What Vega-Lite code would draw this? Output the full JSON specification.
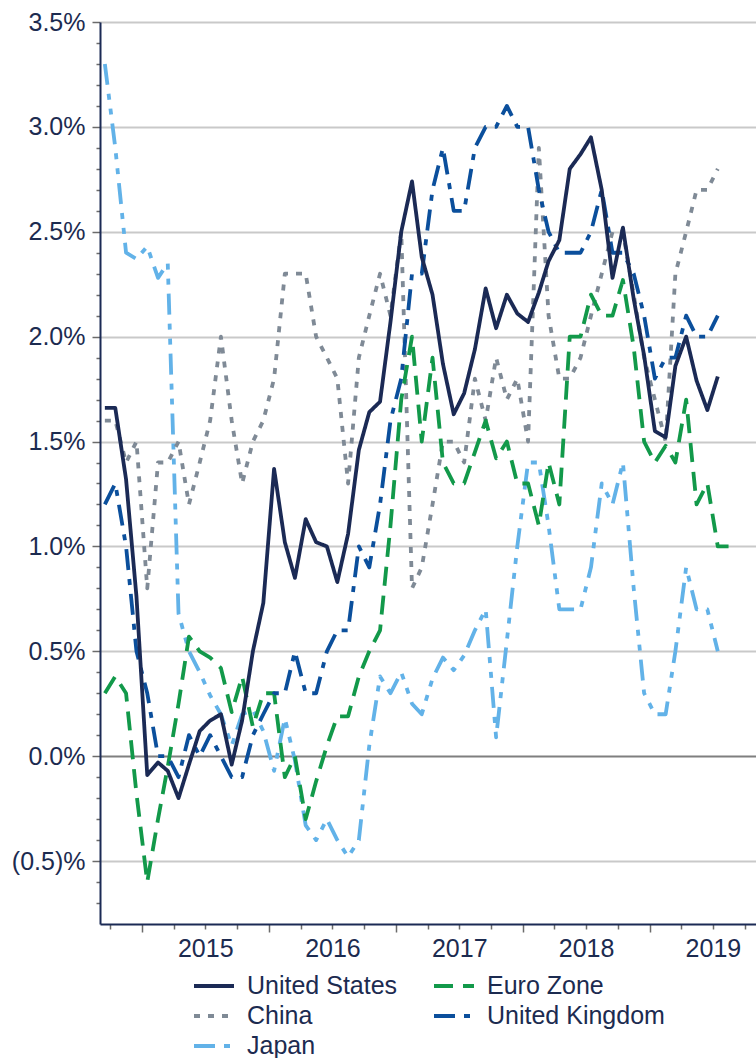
{
  "$schema": "https://vega.github.io/schema/vega-lite/v6.json",
  "width": 656,
  "height": 902,
  "autosize": {"type": "none"},
  "padding": {"left": 100, "top": 22, "right": 0, "bottom": 134},
  "background": "white",
  "config": {"view": {"stroke": null}, "font": "Liberation Sans"},
  "data": {"values": [
    {"date": "2014-09-15", "Japan": 3.3, "China": 1.6, "Euro Zone": 0.3, "United Kingdom": 1.2, "United States": 1.66},
    {"date": "2014-10-15", "Japan": 2.9, "China": 1.6, "Euro Zone": 0.38, "United Kingdom": 1.3, "United States": 1.66},
    {"date": "2014-11-15", "Japan": 2.4, "China": 1.4, "Euro Zone": 0.3, "United Kingdom": 1.0, "United States": 1.32},
    {"date": "2014-12-15", "Japan": 2.37, "China": 1.5, "Euro Zone": -0.18, "United Kingdom": 0.5, "United States": 0.76},
    {"date": "2015-01-15", "Japan": 2.43, "China": 0.8, "Euro Zone": -0.6, "United Kingdom": 0.3, "United States": -0.09},
    {"date": "2015-02-15", "Japan": 2.28, "China": 1.4, "Euro Zone": -0.3, "United Kingdom": 0.0, "United States": -0.03},
    {"date": "2015-03-15", "Japan": 2.35, "China": 1.4, "Euro Zone": -0.05, "United Kingdom": 0.0, "United States": -0.07},
    {"date": "2015-04-15", "Japan": 0.68, "China": 1.5, "Euro Zone": 0.25, "United Kingdom": -0.1, "United States": -0.2},
    {"date": "2015-05-15", "Japan": 0.5, "China": 1.2, "Euro Zone": 0.57, "United Kingdom": 0.1, "United States": -0.04},
    {"date": "2015-06-15", "Japan": 0.4, "China": 1.4, "Euro Zone": 0.5, "United Kingdom": 0.0, "United States": 0.12},
    {"date": "2015-07-15", "Japan": 0.29, "China": 1.6, "Euro Zone": 0.47, "United Kingdom": 0.1, "United States": 0.17},
    {"date": "2015-08-15", "Japan": 0.2, "China": 2.0, "Euro Zone": 0.42, "United Kingdom": 0.0, "United States": 0.2},
    {"date": "2015-09-15", "Japan": 0.05, "China": 1.6, "Euro Zone": 0.21, "United Kingdom": -0.1, "United States": -0.04},
    {"date": "2015-10-15", "Japan": 0.2, "China": 1.3, "Euro Zone": 0.38, "United Kingdom": -0.1, "United States": 0.17},
    {"date": "2015-11-15", "Japan": 0.22, "China": 1.5, "Euro Zone": 0.14, "United Kingdom": 0.1, "United States": 0.5},
    {"date": "2015-12-15", "Japan": 0.12, "China": 1.6, "Euro Zone": 0.3, "United Kingdom": 0.2, "United States": 0.73},
    {"date": "2016-01-15", "Japan": -0.07, "China": 1.8, "Euro Zone": 0.3, "United Kingdom": 0.3, "United States": 1.37},
    {"date": "2016-02-15", "Japan": 0.18, "China": 2.3, "Euro Zone": -0.1, "United Kingdom": 0.3, "United States": 1.02},
    {"date": "2016-03-15", "Japan": -0.02, "China": 2.3, "Euro Zone": 0.0, "United Kingdom": 0.5, "United States": 0.85},
    {"date": "2016-04-15", "Japan": -0.33, "China": 2.3, "Euro Zone": -0.3, "United Kingdom": 0.3, "United States": 1.13},
    {"date": "2016-05-15", "Japan": -0.4, "China": 2.0, "Euro Zone": -0.12, "United Kingdom": 0.3, "United States": 1.02},
    {"date": "2016-06-15", "Japan": -0.3, "China": 1.9, "Euro Zone": 0.05, "United Kingdom": 0.5, "United States": 1.0},
    {"date": "2016-07-15", "Japan": -0.4, "China": 1.8, "Euro Zone": 0.19, "United Kingdom": 0.6, "United States": 0.83},
    {"date": "2016-08-15", "Japan": -0.48, "China": 1.3, "Euro Zone": 0.19, "United Kingdom": 0.6, "United States": 1.06},
    {"date": "2016-09-15", "Japan": -0.4, "China": 1.9, "Euro Zone": 0.38, "United Kingdom": 1.0, "United States": 1.46},
    {"date": "2016-10-15", "Japan": 0.05, "China": 2.1, "Euro Zone": 0.5, "United Kingdom": 0.9, "United States": 1.64},
    {"date": "2016-11-15", "Japan": 0.38, "China": 2.3, "Euro Zone": 0.6, "United Kingdom": 1.2, "United States": 1.69},
    {"date": "2016-12-15", "Japan": 0.3, "China": 2.1, "Euro Zone": 1.1, "United Kingdom": 1.6, "United States": 2.07},
    {"date": "2017-01-15", "Japan": 0.4, "China": 2.5, "Euro Zone": 1.7, "United Kingdom": 1.8, "United States": 2.5},
    {"date": "2017-02-15", "Japan": 0.25, "China": 0.8, "Euro Zone": 2.0, "United Kingdom": 2.3, "United States": 2.74},
    {"date": "2017-03-15", "Japan": 0.2, "China": 0.9, "Euro Zone": 1.5, "United Kingdom": 2.3, "United States": 2.38},
    {"date": "2017-04-15", "Japan": 0.37, "China": 1.2, "Euro Zone": 1.9, "United Kingdom": 2.7, "United States": 2.2},
    {"date": "2017-05-15", "Japan": 0.47, "China": 1.5, "Euro Zone": 1.4, "United Kingdom": 2.9, "United States": 1.87},
    {"date": "2017-06-15", "Japan": 0.41, "China": 1.5, "Euro Zone": 1.3, "United Kingdom": 2.6, "United States": 1.63},
    {"date": "2017-07-15", "Japan": 0.48, "China": 1.4, "Euro Zone": 1.3, "United Kingdom": 2.6, "United States": 1.73},
    {"date": "2017-08-15", "Japan": 0.6, "China": 1.8, "Euro Zone": 1.45, "United Kingdom": 2.9, "United States": 1.94},
    {"date": "2017-09-15", "Japan": 0.7, "China": 1.6, "Euro Zone": 1.6, "United Kingdom": 3.0, "United States": 2.23},
    {"date": "2017-10-15", "Japan": 0.09, "China": 1.9, "Euro Zone": 1.42, "United Kingdom": 3.0, "United States": 2.04},
    {"date": "2017-11-15", "Japan": 0.55, "China": 1.7, "Euro Zone": 1.5, "United Kingdom": 3.1, "United States": 2.2},
    {"date": "2017-12-15", "Japan": 1.0, "China": 1.8, "Euro Zone": 1.3, "United Kingdom": 3.0, "United States": 2.11},
    {"date": "2018-01-15", "Japan": 1.4, "China": 1.5, "Euro Zone": 1.3, "United Kingdom": 3.0, "United States": 2.07},
    {"date": "2018-02-15", "Japan": 1.4, "China": 2.9, "Euro Zone": 1.1, "United Kingdom": 2.7, "United States": 2.21},
    {"date": "2018-03-15", "Japan": 1.1, "China": 2.1, "Euro Zone": 1.4, "United Kingdom": 2.5, "United States": 2.36},
    {"date": "2018-04-15", "Japan": 0.7, "China": 1.8, "Euro Zone": 1.2, "United Kingdom": 2.4, "United States": 2.46},
    {"date": "2018-05-15", "Japan": 0.7, "China": 1.8, "Euro Zone": 2.0, "United Kingdom": 2.4, "United States": 2.8},
    {"date": "2018-06-15", "Japan": 0.7, "China": 1.9, "Euro Zone": 2.0, "United Kingdom": 2.4, "United States": 2.87},
    {"date": "2018-07-15", "Japan": 0.9, "China": 2.1, "Euro Zone": 2.2, "United Kingdom": 2.5, "United States": 2.95},
    {"date": "2018-08-15", "Japan": 1.3, "China": 2.3, "Euro Zone": 2.1, "United Kingdom": 2.7, "United States": 2.7},
    {"date": "2018-09-15", "Japan": 1.2, "China": 2.5, "Euro Zone": 2.1, "United Kingdom": 2.4, "United States": 2.28},
    {"date": "2018-10-15", "Japan": 1.4, "China": 2.5, "Euro Zone": 2.27, "United Kingdom": 2.4, "United States": 2.52},
    {"date": "2018-11-15", "Japan": 0.8, "China": 2.2, "Euro Zone": 1.95, "United Kingdom": 2.3, "United States": 2.18},
    {"date": "2018-12-15", "Japan": 0.3, "China": 1.9, "Euro Zone": 1.5, "United Kingdom": 2.1, "United States": 1.91},
    {"date": "2019-01-15", "Japan": 0.2, "China": 1.7, "Euro Zone": 1.4, "United Kingdom": 1.8, "United States": 1.55},
    {"date": "2019-02-15", "Japan": 0.2, "China": 1.5, "Euro Zone": 1.48, "United Kingdom": 1.9, "United States": 1.52},
    {"date": "2019-03-15", "Japan": 0.5, "China": 2.3, "Euro Zone": 1.4, "United Kingdom": 1.9, "United States": 1.86},
    {"date": "2019-04-15", "Japan": 0.9, "China": 2.5, "Euro Zone": 1.7, "United Kingdom": 2.1, "United States": 2.0},
    {"date": "2019-05-15", "Japan": 0.7, "China": 2.7, "Euro Zone": 1.2, "United Kingdom": 2.0, "United States": 1.79},
    {"date": "2019-06-15", "Japan": 0.7, "China": 2.7, "Euro Zone": 1.3, "United Kingdom": 2.0, "United States": 1.65},
    {"date": "2019-07-15", "Japan": 0.5, "China": 2.8, "Euro Zone": 1.0, "United Kingdom": 2.1, "United States": 1.81},
    {"date": "2019-08-15", "Euro Zone": 1.0}
  ]},
  "transform": [
    {"fold": ["Japan", "China", "Euro Zone", "United Kingdom", "United States"], "as": ["series", "value"]},
    {"filter": "isValid(datum.value)"}
  ],
  "mark": {"type": "line", "strokeWidth": 3.8, "strokeCap": "butt", "strokeJoin": "round"},
  "encoding": {
    "x": {
      "field": "date", "type": "temporal",
      "scale": {"type": "utc", "domain": [{"year": 2014, "month": 9, "date": 1, "utc": true}, {"year": 2019, "month": 11, "date": 2, "utc": true}]},
      "axis": {
        "title": null,
        "grid": false,
        "values": [
          {"year": 2014, "month": 10, "date": 1, "utc": true},
          {"year": 2015, "month": 1, "date": 1, "utc": true}, {"year": 2015, "month": 4, "date": 1, "utc": true}, {"year": 2015, "month": 7, "date": 1, "utc": true}, {"year": 2015, "month": 10, "date": 1, "utc": true},
          {"year": 2016, "month": 1, "date": 1, "utc": true}, {"year": 2016, "month": 4, "date": 1, "utc": true}, {"year": 2016, "month": 7, "date": 1, "utc": true}, {"year": 2016, "month": 10, "date": 1, "utc": true},
          {"year": 2017, "month": 1, "date": 1, "utc": true}, {"year": 2017, "month": 4, "date": 1, "utc": true}, {"year": 2017, "month": 7, "date": 1, "utc": true}, {"year": 2017, "month": 10, "date": 1, "utc": true},
          {"year": 2018, "month": 1, "date": 1, "utc": true}, {"year": 2018, "month": 4, "date": 1, "utc": true}, {"year": 2018, "month": 7, "date": 1, "utc": true}, {"year": 2018, "month": 10, "date": 1, "utc": true},
          {"year": 2019, "month": 1, "date": 1, "utc": true}, {"year": 2019, "month": 4, "date": 1, "utc": true}, {"year": 2019, "month": 7, "date": 1, "utc": true}, {"year": 2019, "month": 10, "date": 1, "utc": true}
        ],
        "labelExpr": "utcmonth(datum.value) == 6 ? utcFormat(datum.value, '%Y') : ''",
        "labelFont": "Liberation Sans",
        "labelFontSize": 25,
        "labelColor": "#1c2b50",
        "labelAngle": 0,
        "labelOverlap": false,
        "labelFlush": false,
        "labelBaseline": "top",
        "labelPadding": 7,
        "domainColor": "#1b2a55",
        "domainWidth": 2,
        "tickColor": "#6b6b6b",
        "tickWidth": 1.5,
        "tickSize": {"condition": {"test": "utcmonth(datum.value) == 0", "value": 8}, "value": 5}
      }
    },
    "y": {
      "field": "value", "type": "quantitative",
      "scale": {"domain": [-0.8, 3.5], "nice": false, "zero": false},
      "axis": {
        "title": null,
        "values": [-0.7, -0.6, -0.5, -0.4, -0.3, -0.2, -0.1, 0, 0.1, 0.2, 0.3, 0.4, 0.5, 0.6, 0.7, 0.8, 0.9, 1.0, 1.1, 1.2, 1.3, 1.4, 1.5, 1.6, 1.7, 1.8, 1.9, 2.0, 2.1, 2.2, 2.3, 2.4, 2.5, 2.6, 2.7, 2.8, 2.9, 3.0, 3.1, 3.2, 3.3, 3.4, 3.5],
        "labelExpr": "abs(datum.value*2 - round(datum.value*2)) < 0.001 ? (datum.value < 0 ? '(' + format(-datum.value, '.1f') + ')%' : format(datum.value, '.1f') + '%') : ''",
        "labelFont": "Liberation Sans",
        "labelFontSize": 25,
        "labelColor": "#1c2b50",
        "labelOverlap": false,
        "labelFlush": false,
        "labelBound": false,
        "labelPadding": 7,
        "domainColor": "#1b2a55",
        "domainWidth": 2,
        "tickColor": "#6b6b6b",
        "tickWidth": 1.5,
        "tickSize": {"condition": {"test": "abs(datum.value*2 - round(datum.value*2)) < 0.001", "value": 8}, "value": 4},
        "grid": true,
        "gridWidth": 2,
        "gridColor": {"condition": {"test": "abs(datum.value) < 0.001", "value": "#7f7f7f"}, "value": "#c9c9c9"},
        "gridOpacity": {"condition": {"test": "abs(datum.value*2 - round(datum.value*2)) < 0.001", "value": 1}, "value": 0}
      }
    },
    "color": {
      "field": "series", "type": "nominal",
      "scale": {"domain": ["United States", "China", "Japan", "Euro Zone", "United Kingdom"], "range": ["#1b2a55", "#7f8a96", "#62b2e8", "#12994a", "#0b4f9c"]},
      "legend": {"orient": "none", "legendX": 92, "legendY": 949, "columns": 2, "title": null, "symbolType": "stroke", "symbolSize": 1600, "symbolStrokeWidth": 3.8, "labelFont": "Liberation Sans", "labelFontSize": 25, "labelColor": "#1c2b50", "labelOffset": 11, "clipHeight": 30, "rowPadding": 0, "columnPadding": 34, "padding": 0, "labelLimit": 400}
    },
    "strokeDash": {
      "field": "series", "type": "nominal",
      "scale": {"domain": ["United States", "China", "Japan", "Euro Zone", "United Kingdom"], "range": [[1, 0], [6, 8], [21, 9, 6, 9, 6, 9], [19, 10], [21, 9, 6, 9]]},
      "legend": {"orient": "none", "legendX": 92, "legendY": 949, "columns": 2, "title": null, "symbolType": "stroke", "symbolSize": 1600, "symbolStrokeWidth": 3.8, "labelFont": "Liberation Sans", "labelFontSize": 25, "labelColor": "#1c2b50", "labelOffset": 11, "clipHeight": 30, "rowPadding": 0, "columnPadding": 34, "padding": 0, "labelLimit": 400}
    }
  }
}
